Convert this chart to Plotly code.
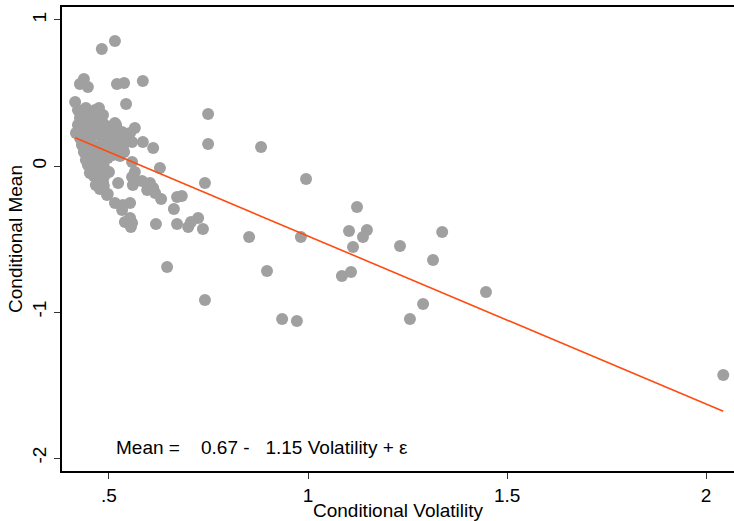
import plotly.graph_objects as go

# Conditional volatility (x) and conditional mean (y)
volatility = [
    0.482, 0.515, 0.437, 0.427, 0.447, 0.520, 0.538, 0.585, 0.415, 0.543,
    0.749, 0.749, 0.882, 0.995, 0.741, 0.518, 0.565, 0.585, 0.611, 0.628,
    0.500, 0.523, 0.497, 0.475, 0.485, 0.515, 0.558, 0.535, 0.510, 0.482,
    0.558, 0.565, 0.485, 0.558, 0.560, 0.583, 0.603, 0.596, 0.611, 0.616,
    0.631, 0.495, 0.515, 0.535, 0.553, 0.533, 0.540, 0.558, 0.555, 0.618,
    0.671, 0.683, 0.663, 0.671, 0.699, 0.706, 0.724, 0.736, 0.646, 0.741,
    0.852, 0.897, 0.982, 0.935, 0.972, 1.123, 1.103, 1.148, 1.138, 1.113,
    1.085, 1.108, 1.231, 1.337, 1.314, 1.289, 1.256, 1.447, 2.043,
    0.538, 0.553, 0.490, 0.553,
    0.422, 0.432, 0.442, 0.452, 0.465, 0.427, 0.437, 0.447, 0.457, 0.467,
    0.477, 0.487, 0.497, 0.508, 0.422, 0.432, 0.442, 0.452, 0.462, 0.472,
    0.482, 0.492, 0.503, 0.513, 0.417, 0.427, 0.440, 0.523, 0.533, 0.543,
    0.432, 0.442, 0.452, 0.462, 0.472, 0.482, 0.492, 0.503, 0.513, 0.523,
    0.437, 0.447, 0.457, 0.467, 0.477, 0.487, 0.497, 0.528, 0.538, 0.447,
    0.457, 0.467, 0.477, 0.487, 0.452, 0.462, 0.472, 0.482, 0.467, 0.477,
    0.487, 0.442,
]
cond_mean = [
    0.801, 0.856, 0.596, 0.562, 0.541, 0.562, 0.568, 0.582, 0.438, 0.425,
    0.356, 0.151, 0.130, -0.089, -0.116, 0.281, 0.260, 0.164, 0.123, -0.014,
    -0.041, -0.116, -0.192, 0.397, 0.349, 0.295, 0.164, 0.123, 0.075, 0.041,
    0.027, -0.041, -0.110, -0.075, -0.130, -0.103, -0.116, -0.164, -0.151, -0.185,
    -0.226, -0.199, -0.253, -0.267, -0.253, -0.301, -0.384, -0.390, -0.418, -0.397,
    -0.212, -0.205, -0.295, -0.397, -0.418, -0.384, -0.356, -0.432, -0.692, -0.918,
    -0.486, -0.719, -0.486, -1.048, -1.062, -0.281, -0.445, -0.438, -0.486, -0.555,
    -0.753, -0.726, -0.548, -0.452, -0.644, -0.945, -1.048, -0.863, -1.432,
    0.212, 0.226, -0.062, -0.356,
    0.384, 0.363, 0.397, 0.370, 0.384, 0.329, 0.301, 0.329, 0.281, 0.315,
    0.260, 0.288, 0.247, 0.274, 0.281, 0.247, 0.267, 0.233, 0.212, 0.226,
    0.192, 0.205, 0.178, 0.212, 0.226, 0.192, 0.178, 0.192, 0.233, 0.185,
    0.144, 0.123, 0.158, 0.137, 0.110, 0.144, 0.110, 0.130, 0.096, 0.123,
    0.096, 0.068, 0.041, 0.075, 0.055, 0.027, 0.055, 0.068, 0.096, 0.007,
    -0.014, 0.014, -0.027, -0.007, -0.048, -0.068, -0.096, -0.068, -0.130, -0.158,
    -0.137, 0.041,
]

# Fitted regression: Mean = 0.67 - 1.15 Volatility
intercept = 0.67
slope = -1.15

x_ticks = [0.5, 1, 1.5, 2]
x_tick_labels = [".5", "1", "1.5", "2"]
y_ticks = [-2, -1, 0, 1]
y_tick_labels = ["-2", "-1", "0", "1"]

fit_x = [min(volatility), max(volatility)]
fit_y = [intercept + slope * v for v in fit_x]

font_family = "Liberation Sans, Arial, sans-serif"
fs = 19

fig = go.Figure()
fig.add_trace(go.Scatter(
    x=volatility, y=cond_mean, mode="markers",
    marker=dict(size=12, color="#a0a0a0", line=dict(width=0)),
    showlegend=False, hoverinfo="x+y",
))
fig.add_trace(go.Scatter(
    x=fit_x, y=fit_y, mode="lines",
    line=dict(color="#ff4a10", width=1.6),
    showlegend=False,
))

fig.add_annotation(
    x=0.513, y=-1.925, xref="x", yref="y",
    text="Mean =\u00a0\u00a0\u00a0\u00a00.67 -\u00a0\u00a0\u00a01.15 Volatility + \u03b5",
    showarrow=False, xanchor="left", yanchor="middle",
    font=dict(family=font_family, size=fs, color="#000000"),
)

fig.update_layout(
    width=734, height=521,
    margin=dict(l=62, r=0, t=7, b=50),
    paper_bgcolor="white", plot_bgcolor="white",
    font=dict(family=font_family, size=fs, color="#000000"),
    xaxis=dict(
        range=[0.382, 2.07], tickvals=x_ticks, ticktext=x_tick_labels,
        showgrid=False, zeroline=False,
        showline=True, linecolor="#000000", linewidth=2, mirror=True,
        ticks="outside", ticklen=6, tickcolor="#333333", tickwidth=1,
        tickfont=dict(size=fs),
        title=dict(text="Conditional Volatility", font=dict(size=fs), standoff=0),
    ),
    yaxis=dict(
        range=[-2.089, 1.089], tickvals=y_ticks, ticktext=y_tick_labels,
        showgrid=False, zeroline=False,
        showline=True, linecolor="#000000", linewidth=2,
        ticks="outside", ticklen=6, tickcolor="#333333", tickwidth=1,
        tickangle=-90, tickfont=dict(size=fs),
        title=dict(text="Conditional Mean", font=dict(size=fs), standoff=2),
    ),
)

fig.write_html("out.html")
